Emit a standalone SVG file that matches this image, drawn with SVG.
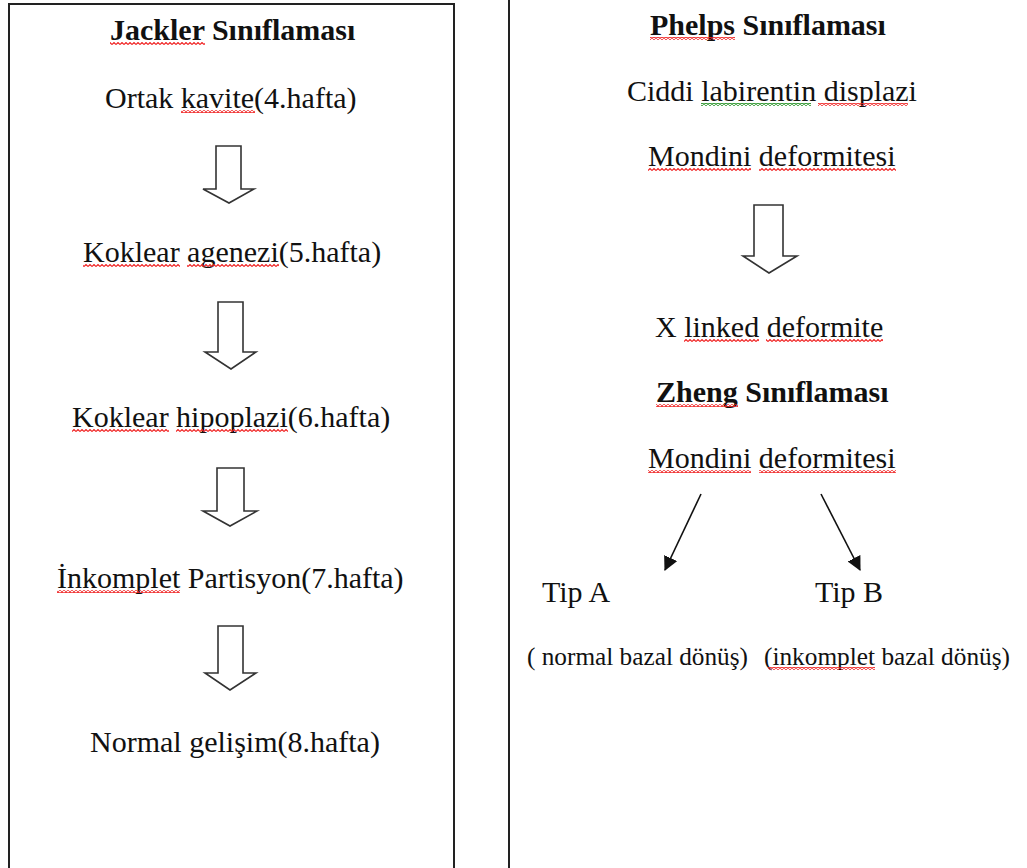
<svg xmlns="http://www.w3.org/2000/svg" width="1027" height="868" viewBox="0 0 1027 868" font-family="'Liberation Serif', 'Times New Roman', serif">
<style>
text{font-family:"Liberation Serif","Times New Roman",serif}
.t{font-size:30px;fill:#111}
.b{font-weight:bold}
.s{font-size:25px}
.frame{fill:none;stroke:#222;stroke-width:2}
.blk{fill:#fff;stroke:#333;stroke-width:1.6;stroke-linejoin:miter}
.ln{stroke:#111;stroke-width:1.6;fill:none}
.sq{fill:url(#sqr)}
.sg{fill:url(#sqg)}
</style>
<defs>
<pattern id="sqr" patternUnits="userSpaceOnUse" width="4" height="3">
<polyline points="0,2.5 2,0.5 4,2.5" fill="none" stroke="#f02020" stroke-width="1.1"/>
</pattern>
<pattern id="sqg" patternUnits="userSpaceOnUse" width="4" height="3">
<polyline points="0,2.5 2,0.5 4,2.5" fill="none" stroke="#209020" stroke-width="1.1"/>
</pattern>
<marker id="ah" viewBox="0 0 12 12" refX="11" refY="6" markerWidth="9" markerHeight="9" orient="auto" markerUnits="strokeWidth">
<path d="M0,0 L12,6 L0,12 z" fill="#111"/>
</marker>
</defs>
<rect width="1027" height="868" fill="#fff"/>
<g id="frames">
<path class="frame" d="M9,880 V4 H454 V880"/>
<path class="frame" d="M509,-5 V880"/>
</g>
<g id="jackler-title">
<text class="t b" x="110" y="40" font-family="Liberation Serif">Jackler Sınıflaması</text>
<rect class="sq" x="110" y="42" width="95" height="3"/>
</g>
<g id="ortak-kavite">
<text class="t" x="105" y="108" font-family="Liberation Serif">Ortak kavite(4.hafta)</text>
<rect class="sq" x="181" y="110" width="74" height="3"/>
</g>
<g id="koklear-agenezi">
<text class="t" x="83" y="262" font-family="Liberation Serif">Koklear agenezi(5.hafta)</text>
<rect class="sq" x="83" y="264" width="97" height="3"/>
<rect class="sq" x="187" y="264" width="92" height="3"/>
</g>
<g id="koklear-hipoplazi">
<text class="t" x="72" y="427" font-family="Liberation Serif">Koklear hipoplazi(6.hafta)</text>
<rect class="sq" x="72" y="429" width="97" height="3"/>
<rect class="sq" x="176" y="429" width="112" height="3"/>
</g>
<g id="inkomplet-partisyon">
<text class="t" x="57" y="588" font-family="Liberation Serif">İnkomplet Partisyon(7.hafta)</text>
<rect class="sq" x="57" y="590" width="123" height="3"/>
</g>
<g id="normal-gelisim">
<text class="t" x="90" y="752" font-family="Liberation Serif">Normal gelişim(8.hafta)</text>
</g>
<g id="phelps-title">
<text class="t b" x="650" y="35" font-family="Liberation Serif">Phelps Sınıflaması</text>
<rect class="sq" x="650" y="37" width="85" height="3"/>
</g>
<g id="ciddi-labirentin">
<text class="t" x="627" y="101" font-family="Liberation Serif">Ciddi labirentin displazi</text>
<rect class="sg" x="701" y="103" width="110" height="3"/>
<rect class="sq" x="818" y="103" width="90" height="3"/>
</g>
<g id="mondini-1">
<text class="t" x="648" y="166" font-family="Liberation Serif">Mondini deformitesi</text>
<rect class="sq" x="648" y="168" width="103" height="3"/>
<rect class="sq" x="759" y="168" width="137" height="3"/>
</g>
<g id="x-linked">
<text class="t" x="655" y="337" font-family="Liberation Serif">X linked deformite</text>
<rect class="sq" x="684" y="339" width="75" height="3"/>
<rect class="sq" x="766" y="339" width="117" height="3"/>
</g>
<g id="zheng-title">
<text class="t b" x="656" y="402" font-family="Liberation Serif">Zheng Sınıflaması</text>
<rect class="sq" x="656" y="404" width="82" height="3"/>
</g>
<g id="mondini-2">
<text class="t" x="648" y="468" font-family="Liberation Serif">Mondini deformitesi</text>
<rect class="sq" x="648" y="470" width="103" height="3"/>
<rect class="sq" x="759" y="470" width="137" height="3"/>
</g>
<g id="tip-a">
<text class="t" x="542" y="602" font-family="Liberation Serif">Tip A</text>
<text class="t s" x="527" y="665" font-family="Liberation Serif" textLength="221" lengthAdjust="spacingAndGlyphs">( normal bazal dönüş)</text>
</g>
<g id="tip-b">
<text class="t" x="815" y="602" font-family="Liberation Serif">Tip B</text>
<text class="t s" x="764" y="665" font-family="Liberation Serif" textLength="246" lengthAdjust="spacingAndGlyphs">(inkomplet bazal dönüş)</text>
<rect class="sq" x="768" y="667" width="107" height="3"/>
</g>
<g id="connectors">
<polygon class="blk" points="216,146 241,146 241,189 254,189 229,203 203,189 216,189"/>
<polygon class="blk" points="218,302 243,302 243,352 256,352 231,369 205,352 218,352"/>
<polygon class="blk" points="217,468 244,468 244,511 257,511 230,526 203,511 217,511"/>
<polygon class="blk" points="218,626 243,626 243,673 256,673 230,690 205,673 218,673"/>
<polygon class="blk" points="754,205 783,205 783,256 797,256 769,273 743,256 754,256"/>
<line class="ln" x1="701" y1="494" x2="665" y2="570" marker-end="url(#ah)"/>
<line class="ln" x1="821" y1="494" x2="860" y2="570" marker-end="url(#ah)"/>
</g>
</svg>
